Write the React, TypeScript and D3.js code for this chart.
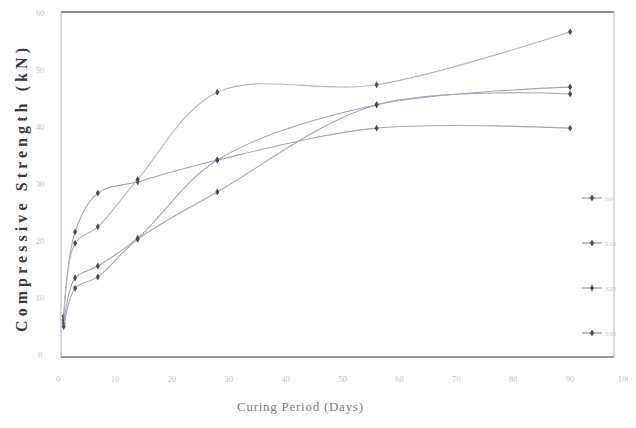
import { useEffect, useRef } from 'react';
import * as d3 from 'd3';

const days = [1, 3, 7, 14, 28, 56, 90];
const seriesNames = ['S0', 'S10', 'S20', 'S30'];
const seriesA = [6.8, 21.6, 28.4, 30.4, 34.2, 39.8, 39.8];
const seriesB = [6.2, 19.6, 22.5, 30.8, 46.1, 47.4, 56.7];
const seriesC = [5.6, 13.5, 15.6, 20.5, 34.2, 43.9, 47.0];
const seriesD = [5.0, 11.7, 13.7, 20.3, 28.6, 43.9, 45.8];
const xTicks = [0, 10, 20, 30, 40, 50, 60, 70, 80, 90, 100];
const yTicks = [0, 10, 20, 30, 40, 50, 60];

const App = () => {
    const ref = useRef<SVGSVGElement | null>(null);

    useEffect(() => {
        if (!ref.current) return;
        const width = 636;
        const height = 428;
        const svg = d3.select(ref.current);
        svg.selectAll('*').remove();
        svg.attr('width', width).attr('height', height);

        const x = d3.scaleLinear().domain([0, 100]).range([58, 627]);
        const y = d3.scaleLinear().domain([0, 60]).range([355, 13]);

        svg.append('rect').attr('width', width).attr('height', height).attr('fill', '#fff');

        // plot frame
        const frame = svg.append('g');
        frame.append('line').attr('x1', 61).attr('x2', 614).attr('y1', 12).attr('y2', 12)
            .attr('stroke', '#6a6a6a').attr('stroke-width', 1.5);
        frame.append('line').attr('x1', 61).attr('x2', 614).attr('y1', 357).attr('y2', 357)
            .attr('stroke', '#7a7a7a').attr('stroke-width', 1.5);
        frame.append('line').attr('x1', 61).attr('x2', 61).attr('y1', 12).attr('y2', 357)
            .attr('stroke', '#b4b4b8').attr('stroke-width', 1);
        frame.append('line').attr('x1', 614).attr('x2', 614).attr('y1', 12).attr('y2', 357)
            .attr('stroke', '#c4c4c8').attr('stroke-width', 1.2);

        // tick labels
        svg.append('g').selectAll('text').data(yTicks).join('text')
            .attr('x', 40).attr('y', d => y(d) + 3)
            .attr('text-anchor', 'middle')
            .attr('font-family', 'Liberation Serif, serif').attr('font-size', 8.5)
            .attr('fill', '#c2c2c6')
            .text(d => d);

        svg.append('g').selectAll('text').data(xTicks).join('text')
            .attr('x', d => (d === 100 ? x(d) - 3 : x(d))).attr('y', 382)
            .attr('text-anchor', 'middle')
            .attr('font-family', 'Liberation Serif, serif').attr('font-size', 8.5)
            .attr('fill', '#c2c2c6')
            .text(d => d);

        // titles
        svg.append('text')
            .attr('transform', 'translate(27,190) rotate(-90)')
            .attr('text-anchor', 'middle')
            .attr('font-family', 'Liberation Serif, serif').attr('font-size', 16)
            .attr('font-weight', 'bold').attr('fill', '#3a3a3e')
            .attr('textLength', 284).attr('lengthAdjust', 'spacing')
            .text('Compressive Strength (kN)');

        svg.append('text')
            .attr('x', 300).attr('y', 411)
            .attr('text-anchor', 'middle')
            .attr('font-family', 'Liberation Serif, serif').attr('font-size', 13)
            .attr('fill', '#7a7a80')
            .attr('textLength', 126).attr('lengthAdjust', 'spacing')
            .text('Curing Period (Days)');

        // series
        const all = [seriesA, seriesB, seriesC, seriesD];
        const line = d3.line<number>()
            .x((_, i) => x(days[i]))
            .y(d => y(d))
            .curve(d3.curveCatmullRom.alpha(0.5));
        const diamond = d3.symbol().type(d3.symbolDiamond).size(14);

        all.forEach((vals, k) => {
            const g = svg.append('g');
            g.append('path').attr('d', line(vals))
                .attr('fill', 'none')
                .attr('stroke', k === 1 ? '#b2b6c4' : '#a2a6b6')
                .attr('stroke-width', 1.1);
            g.selectAll('path.m').data(vals).join('path')
                .attr('class', 'm')
                .attr('d', diamond)
                .attr('transform', (d, i) => `translate(${x(days[i])},${y(d)})`)
                .attr('fill', '#474b5e');
        });

        // legend
        const lg = svg.append('g').selectAll('g').data(seriesNames).join('g')
            .attr('transform', (_, i) => `translate(0,${198 + i * 45})`);
        lg.append('line').attr('x1', 582).attr('x2', 602).attr('y1', 0).attr('y2', 0)
            .attr('stroke', '#8e92a2').attr('stroke-width', 1.1);
        lg.append('path').attr('d', diamond).attr('transform', 'translate(592,0)').attr('fill', '#474b5e');
        lg.append('text').attr('x', 605).attr('y', 3)
            .attr('font-family', 'Liberation Serif, serif').attr('font-size', 7)
            .attr('fill', '#c4c6cc')
            .text(d => d);
    }, []);

    return (
        <div style={{ margin: -8 }}>
            <svg ref={ref} style={{ display: 'block' }} />
        </div>
    );
};

export default App;
